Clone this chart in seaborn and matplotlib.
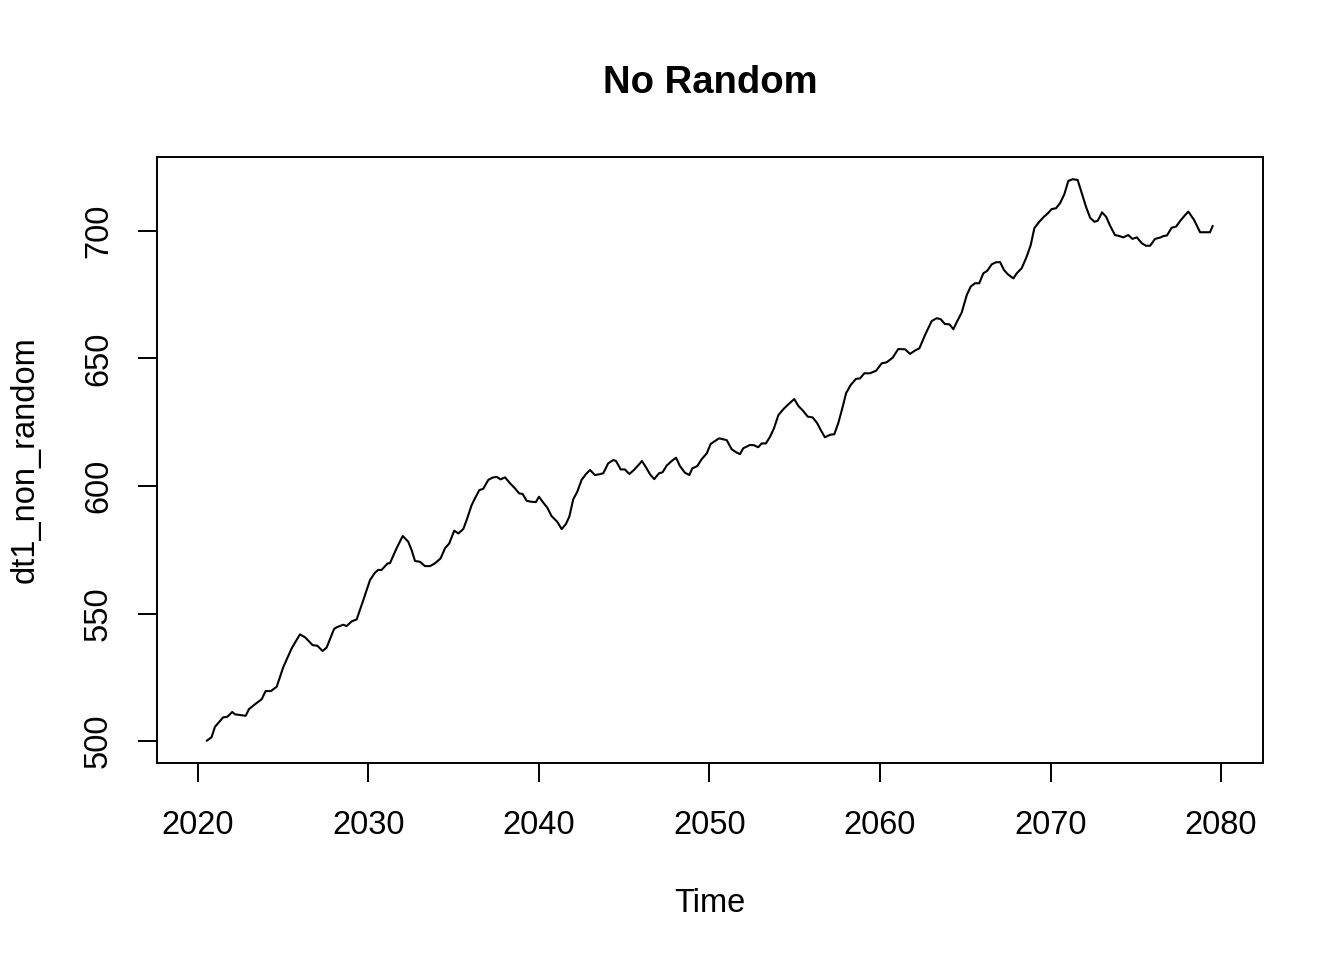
import matplotlib
matplotlib.use("Agg")
import matplotlib.pyplot as plt
import seaborn as sns
import pandas as pd

time = [
    2020.51, 2020.80, 2021.00, 2021.48, 2021.72, 2022.01, 2022.17, 2022.80, 2022.99, 2023.34,
    2023.74, 2023.97, 2024.28, 2024.62, 2025.00, 2025.50, 2025.98, 2026.28, 2026.73, 2027.00,
    2027.31, 2027.55, 2027.98, 2028.13, 2028.52, 2028.72, 2029.01, 2029.31, 2029.70, 2030.09,
    2030.38, 2030.57, 2030.77, 2031.13, 2031.26, 2031.65, 2032.01, 2032.33, 2032.53, 2032.73,
    2033.02, 2033.31, 2033.61, 2033.90, 2034.23, 2034.49, 2034.74, 2035.03, 2035.27, 2035.56,
    2035.76, 2036.05, 2036.25, 2036.50, 2036.73, 2037.03, 2037.28, 2037.52, 2037.75, 2038.01,
    2038.30, 2038.59, 2038.84, 2039.04, 2039.28, 2039.57, 2039.82, 2040.00, 2040.25, 2040.49,
    2040.74, 2041.07, 2041.33, 2041.58, 2041.78, 2042.01, 2042.25, 2042.50, 2042.76, 2042.99,
    2043.28, 2043.54, 2043.77, 2044.06, 2044.36, 2044.52, 2044.79, 2045.04, 2045.30, 2045.57,
    2045.83, 2046.04, 2046.28, 2046.51, 2046.76, 2047.04, 2047.25, 2047.49, 2047.78, 2048.04,
    2048.27, 2048.56, 2048.82, 2048.99, 2049.28, 2049.54, 2049.84, 2050.07, 2050.32, 2050.56,
    2051.01, 2051.30, 2051.60, 2051.79, 2051.98, 2052.38, 2052.61, 2052.86, 2053.06, 2053.31,
    2053.55, 2053.78, 2054.04, 2054.33, 2054.62, 2054.97, 2055.21, 2055.50, 2055.76, 2056.05,
    2056.32, 2056.52, 2056.77, 2057.07, 2057.32, 2057.55, 2057.79, 2058.01, 2058.28, 2058.59,
    2058.83, 2059.08, 2059.41, 2059.77, 2060.10, 2060.39, 2060.74, 2061.07, 2061.47, 2061.76,
    2062.05, 2062.31, 2062.64, 2063.03, 2063.33, 2063.56, 2063.81, 2064.07, 2064.30, 2064.54,
    2064.79, 2065.09, 2065.32, 2065.57, 2065.82, 2066.06, 2066.29, 2066.55, 2066.79, 2067.04,
    2067.27, 2067.50, 2067.82, 2068.02, 2068.31, 2068.60, 2068.84, 2069.05, 2069.34, 2069.62,
    2069.84, 2070.07, 2070.32, 2070.56, 2070.81, 2071.04, 2071.30, 2071.59, 2071.83, 2072.08,
    2072.32, 2072.57, 2072.77, 2073.02, 2073.26, 2073.49, 2073.78, 2074.04, 2074.27, 2074.56,
    2074.80, 2075.06, 2075.35, 2075.60, 2075.84, 2076.13, 2076.42, 2076.62, 2076.82, 2077.11,
    2077.36, 2077.60, 2077.85, 2078.08, 2078.42, 2078.77, 2079.06, 2079.35, 2079.51,
]

dt1_non_random = [
    500.1, 501.5, 505.6, 509.3, 509.5, 511.4, 510.5, 509.9, 512.5, 514.4,
    516.4, 519.6, 519.6, 521.3, 528.9, 536.4, 541.8, 540.7, 537.6, 537.4,
    535.3, 536.7, 543.9, 544.6, 545.6, 545.1, 546.9, 547.7, 555.3, 563.1,
    566.0, 567.1, 567.1, 569.7, 569.7, 575.6, 580.4, 578.2, 574.9, 570.6,
    570.3, 568.6, 568.6, 569.7, 571.6, 575.6, 577.5, 582.5, 581.4, 583.1,
    586.7, 592.5, 595.2, 598.4, 598.9, 602.4, 603.3, 603.6, 602.6, 603.4,
    601.1, 599.1, 597.1, 596.9, 594.2, 593.8, 593.7, 595.8, 593.5, 591.5,
    588.2, 586.0, 583.1, 585.1, 588.0, 594.8, 597.8, 602.4, 604.7, 606.3,
    604.3, 604.6, 605.0, 608.9, 610.2, 609.8, 606.5, 606.5, 604.7, 606.3,
    608.2, 609.8, 607.3, 604.6, 602.7, 605.0, 605.4, 608.0, 609.8, 611.1,
    607.8, 605.2, 604.3, 606.9, 607.8, 610.5, 612.8, 616.5, 617.6, 618.7,
    618.0, 614.4, 613.1, 612.5, 614.8, 616.1, 616.0, 615.2, 616.7, 616.7,
    619.3, 622.6, 627.8, 630.1, 632.0, 634.1, 631.4, 629.4, 627.2, 626.9,
    624.6, 622.0, 619.1, 620.1, 620.3, 624.6, 630.5, 636.4, 639.6, 642.0,
    642.2, 644.2, 644.2, 645.2, 648.1, 648.5, 650.3, 653.7, 653.6, 651.8,
    653.1, 654.0, 659.2, 664.7, 665.8, 665.4, 663.5, 663.4, 661.5, 664.8,
    668.0, 674.9, 678.2, 679.5, 679.5, 683.4, 684.4, 686.9, 687.7, 687.8,
    684.7, 683.0, 681.4, 683.4, 685.4, 689.9, 694.5, 701.1, 703.6, 705.6,
    706.9, 708.6, 708.9, 710.9, 714.4, 719.6, 720.3, 720.0, 714.8, 709.5,
    705.2, 703.6, 704.0, 707.3, 705.6, 702.1, 698.4, 698.0, 697.5, 698.4,
    696.9, 697.5, 695.2, 694.2, 694.2, 696.9, 697.4, 698.0, 698.2, 701.3,
    701.7, 703.9, 705.9, 707.6, 704.3, 699.5, 699.5, 699.5, 702.0,
]

x_ticks = [2020, 2030, 2040, 2050, 2060, 2070, 2080]
y_ticks = [500, 550, 600, 650, 700]

df = pd.DataFrame({"Time": time, "dt1_non_random": dt1_non_random})

sns.set_theme(style="white")
plt.rcParams["font.family"] = ["Liberation Sans", "DejaVu Sans"]

fig = plt.figure(figsize=(13.44, 9.6), dpi=100)
ax = fig.add_axes([157 / 1344, 1 - 763 / 960, (1263 - 157) / 1344, (763 - 157) / 960])

sns.lineplot(data=df, x="Time", y="dt1_non_random", ax=ax, color="black",
             linewidth=1.5, estimator=None, sort=False)

ax.set_xlim(2017.6, 2082.46)
ax.set_ylim(491.4, 729.0)
ax.set_xticks(x_ticks)
ax.set_yticks(y_ticks)
ax.set_xticklabels([str(v) for v in x_ticks])
ax.set_yticklabels([str(v) for v in y_ticks])

for s in ax.spines.values():
    s.set_visible(True)
    s.set_color("black")
    s.set_linewidth(1.4)

fs = 23.5
ax.tick_params(axis="both", which="major", direction="out", length=14, width=1.4,
               color="black", labelsize=fs, labelcolor="black", bottom=True, left=True)
ax.tick_params(axis="x", pad=20)
ax.tick_params(axis="y", pad=17)
for lab in ax.get_yticklabels():
    lab.set_rotation(90)
    lab.set_va("center")
    lab.set_ha("right")

ax.set_xlabel("Time", fontsize=fs, color="black")
ax.set_ylabel("dt1_non_random", fontsize=fs, color="black")
ax.xaxis.set_label_coords(0.5, (763 - 903) / 606)
ax.xaxis.label.set_va("center")
ax.yaxis.set_label_coords((25 - 157) / 1106, 0.5)
ax.yaxis.label.set_va("center")

fig.text(710 / 1344, 1 - 83 / 960, "No Random", fontsize=27.5, fontweight="bold",
         ha="center", va="center", color="black")

fig.savefig("out.png", dpi=100, facecolor="white")
